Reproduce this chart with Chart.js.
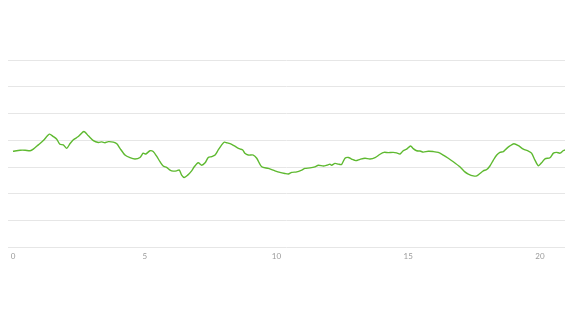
<!DOCTYPE html>
<html>
<head>
<meta charset="utf-8">
<script src="https://cdn.jsdelivr.net/npm/chart.js@4/dist/chart.umd.min.js"></script>
<style>
  html,body{margin:0;padding:0;background:#fff;}
  #wrap{position:relative;width:565px;height:336px;}
</style>
</head>
<body>
<div id="wrap"><canvas id="c" width="565" height="336"></canvas></div>
<script>
const xValues = [0,0.27,0.46,0.65,0.77,0.96,1.15,1.38,1.53,1.66,1.78,1.91,2.04,2.16,2.29,2.48,2.69,2.86,3.05,3.24,3.37,3.49,3.62,3.81,3.94,4.06,4.25,4.44,4.63,4.82,4.94,5.04,5.20,5.32,5.45,5.58,5.70,5.83,5.96,6.08,6.21,6.31,6.40,6.50,6.63,6.78,6.88,7.03,7.16,7.29,7.41,7.54,7.67,7.79,7.92,8.02,8.11,8.30,8.49,8.61,8.72,8.80,8.93,9.12,9.25,9.44,9.69,9.94,10.13,10.32,10.45,10.58,10.77,10.96,11.08,11.27,11.46,11.59,11.78,11.91,12.03,12.09,12.22,12.35,12.47,12.60,12.73,12.85,13.01,13.17,13.36,13.55,13.74,13.93,14.08,14.24,14.43,14.56,14.69,14.81,14.94,15.09,15.19,15.32,15.45,15.57,15.76,15.95,16.14,16.33,16.52,16.71,16.96,17.15,17.28,17.47,17.60,17.72,17.85,17.98,18.10,18.23,18.36,18.48,18.61,18.74,18.86,19.01,19.18,19.37,19.56,19.68,19.81,19.94,20.06,20.19,20.38,20.51,20.63,20.76,20.88,20.95,21.1];
const yValues = [35.9,36.3,36.3,36.1,36.7,38.3,39.9,42.3,41.4,40.4,38.5,38.3,37.0,38.7,40.2,41.4,43.3,41.7,39.9,39.2,39.4,39.1,39.5,39.3,38.7,37.0,34.5,33.5,33.0,33.6,35.2,34.9,36.1,35.8,34.1,32.0,30.4,29.9,28.9,28.5,28.6,28.9,27.0,26.1,27.0,28.6,30.1,31.6,30.7,31.6,33.6,33.9,34.5,36.4,38.3,39.3,39.1,38.5,37.4,36.8,36.4,35.2,34.5,34.5,33.3,30.1,29.5,28.6,28.0,27.6,27.4,28.0,28.2,28.9,29.5,29.7,30.1,30.7,30.4,30.7,31.1,30.7,31.4,31.1,31.0,33.3,33.6,33.0,32.4,32.9,33.3,33.0,33.5,34.8,35.5,35.4,35.5,35.3,34.9,36.1,36.7,37.9,36.9,36.1,36.0,35.6,35.9,35.8,35.5,34.5,33.3,32.0,30.1,28.2,27.4,26.7,26.7,27.6,28.6,29.1,30.4,32.6,34.5,35.5,35.8,37.0,37.9,38.7,38.0,36.7,36.0,35.2,32.6,30.5,31.6,33.1,33.5,35.2,35.5,35.2,36.1,36.4,36.8];
const xTickValues = [0,5,10,15,20];
const yTickValues = [0,10,20,30,40,50,60,70];

const points = xValues.map((x,i)=>({x:x,y:yValues[i]}));

new Chart(document.getElementById('c'), {
  type: 'line',
  data: {
    datasets: [{
      data: points,
      borderColor: '#5eb930',
      borderWidth: 1.4,
      pointRadius: 0,
      tension: 0.25,
      fill: false
    }]
  },
  options: {
    responsive: false,
    animation: false,
    events: [],
    layout: { padding: { left: 8, right: 0, top: 60, bottom: 71 } },
    plugins: { legend: { display: false }, tooltip: { enabled: false } },
    scales: {
      x: {
        type: 'linear',
        min: -0.19,
        max: 20.95,
        afterBuildTicks: s => { s.ticks = xTickValues.map(v=>({value:v})); },
        grid: { display: false, drawTicks: false },
        border: { display: false },
        ticks: { color: '#9a9a9a', font: { family: 'Lato, "Open Sans", sans-serif', size: 8 }, padding: 4, maxRotation: 0 }
      },
      y: {
        min: 0,
        max: 70,
        afterBuildTicks: s => { s.ticks = yTickValues.map(v=>({value:v})); },
        grid: { color: '#e6e6e6', lineWidth: 1, drawTicks: false },
        border: { display: false },
        ticks: { display: false }
      }
    }
  }
});
</script>
</body>
</html>
